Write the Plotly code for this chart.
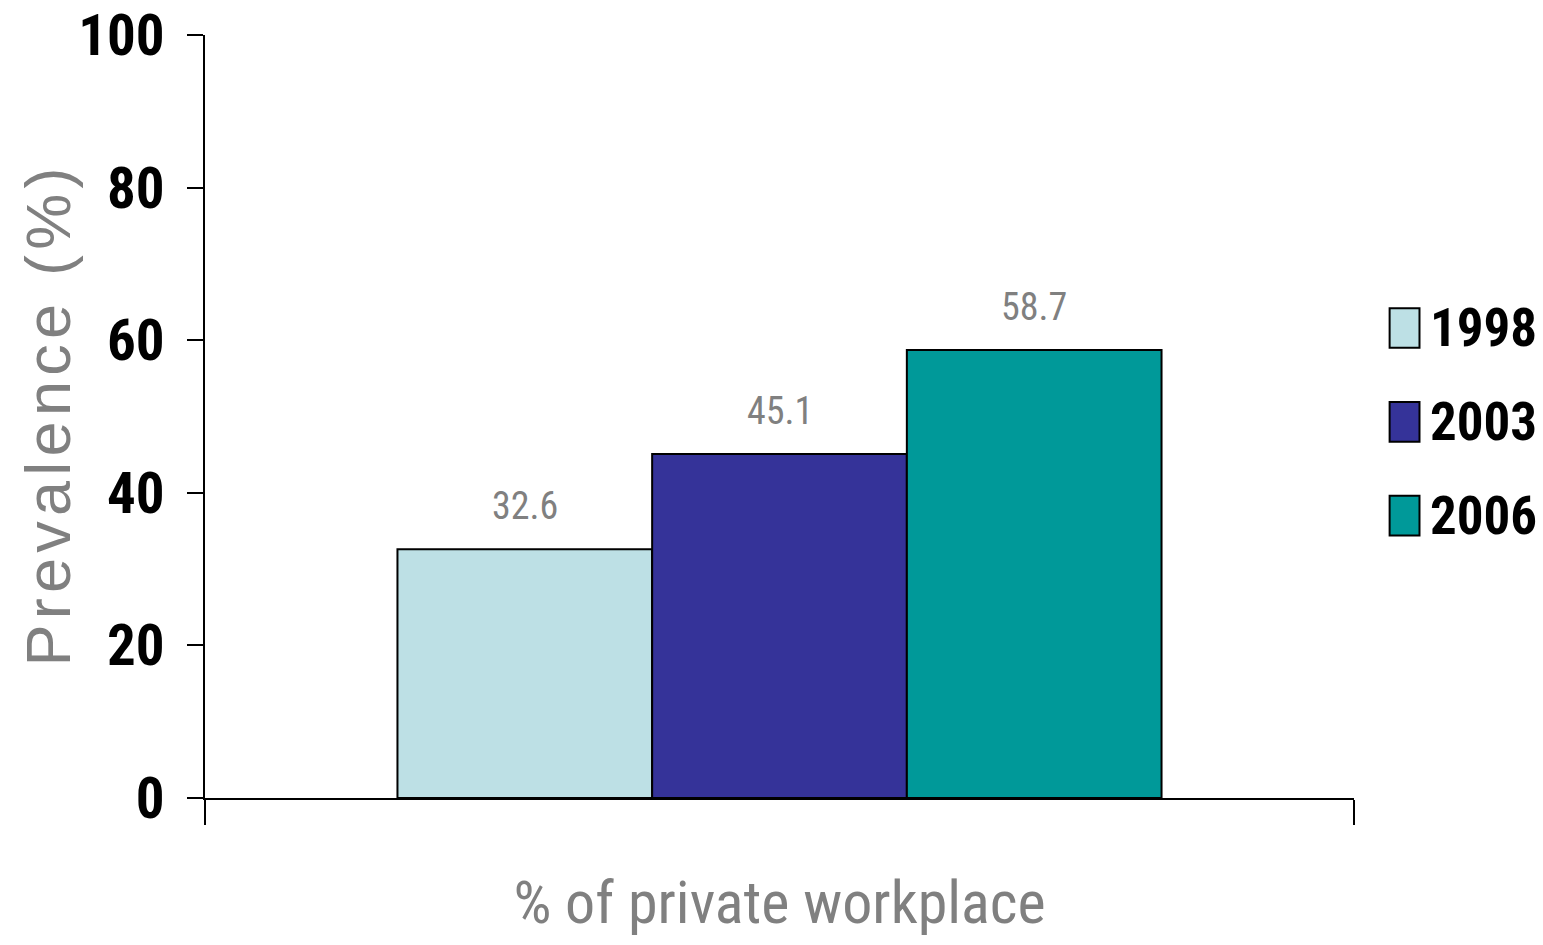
import plotly.graph_objects as go

categories = ["% of private workplace"]
years = ["1998", "2003", "2006"]
values_1998 = [32.6]
values_2003 = [45.1]
values_2006 = [58.7]
colors = ["#BDE0E5", "#353399", "#009999"]
y_ticks = [0, 20, 40, 60, 80, 100]
y_title = "P\u200ar\u200ae\u200av\u200aa\u200al\u200ae\u200an\u200ac\u200ae\u200a \u200a(\u200a%\u200a)"

sans = "Liberation Sans, Arial, sans-serif"
narrow = ("Roboto Condensed, Noto Sans Condensed, Open Sans Condensed, "
          "Liberation Sans Narrow, Arial Narrow, Liberation Sans, sans-serif")
gray = "#808080"
bargap = 0.335
series = [values_1998, values_2003, values_2006]

fig = go.Figure()
for yr, vals, col in zip(years, series, colors):
    fig.add_trace(go.Bar(
        x=categories, y=vals, name=yr, showlegend=False,
        marker=dict(color=col, line=dict(color="black", width=2)),
    ))

# value labels above bars (positioned at group offsets on the category axis)
n = len(years)
bw = (1 - bargap) / n
for i, vals in enumerate(series):
    for ci, v in enumerate(vals):
        fig.add_annotation(
            x=ci - (1 - bargap) / 2 + bw * (i + 0.5), y=v, xref="x", yref="y",
            text=f"{v:.1f}", showarrow=False, yanchor="middle", yshift=43,
            font=dict(family=narrow, size=38, color=gray),
        )

# legend (boxes + labels)
leg_x0, leg_x1 = 1.031, 1.057
leg_y = [0.616, 0.493, 0.370]
box_h = 0.052
for yr, col, yc in zip(years, colors, leg_y):
    fig.add_shape(type="rect", xref="paper", yref="paper",
                  x0=leg_x0, x1=leg_x1, y0=yc - box_h / 2, y1=yc + box_h / 2,
                  fillcolor=col, line=dict(color="black", width=2))
    fig.add_annotation(x=1.064, y=yc, xref="paper", yref="paper", xanchor="left",
                       yanchor="middle", text=f"<b>{yr}</b>", showarrow=False,
                       font=dict(family=narrow, size=53, color="black"))

# y-axis title
fig.add_annotation(x=-0.1366, y=0.4987, xref="paper", yref="paper", textangle=-90,
                   xanchor="center", yanchor="middle", text=y_title, showarrow=False,
                   font=dict(family=sans, size=63, color=gray))

fig.update_layout(
    width=1543, height=945,
    margin=dict(l=205, r=189, t=35, b=147),
    paper_bgcolor="white", plot_bgcolor="white",
    barmode="group", bargap=bargap, bargroupgap=0,
    showlegend=False,
    font=dict(family=sans),
)
fig.update_yaxes(
    range=[0, 100], tickvals=y_ticks, ticks="outside", ticklen=16, tickwidth=2,
    tickcolor="black", showline=True, linecolor="black", linewidth=2,
    showgrid=False, zeroline=False, automargin=False, ticklabelstandoff=11,
    ticklabeloverflow="allow",
    tickfont=dict(family=narrow, size=57, color="black", weight="bold"),
)
fig.update_xaxes(
    ticks="outside", tickson="boundaries", ticklen=25, tickwidth=2, tickcolor="black",
    showline=True, linecolor="black", linewidth=2, showticklabels=False, automargin=False,
    title=dict(text="% of private workplace",
               font=dict(family=narrow, size=60, color=gray), standoff=82),
)
fig.write_html(
    "out.html",
    config={"displayModeBar": False},
    post_script="document.body.style.margin='0';document.body.style.overflow='hidden';",
)
